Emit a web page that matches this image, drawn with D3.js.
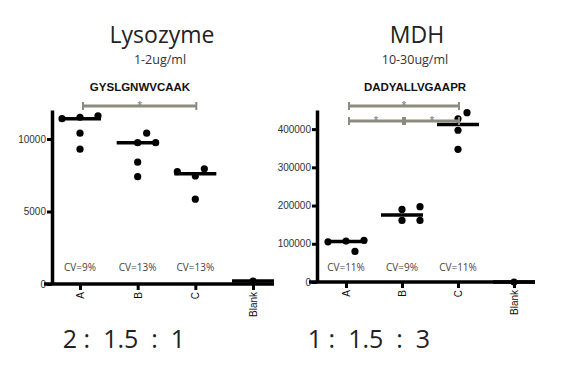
<!DOCTYPE html>
<html>
<head>
<meta charset="utf-8">
<script src="https://cdn.jsdelivr.net/npm/d3@7"></script>
<style>
  body { margin: 0; background: #fff; }
  text { font-family: "Open Sans", sans-serif; }
  .bold { font-family: "Liberation Sans", Arial, sans-serif; font-weight: bold; }
  .tick text { font-family: "Liberation Sans", Arial, sans-serif; }
</style>
</head>
<body>
<script>
// groups on the x axis
var categories = ['A', 'B', 'C', 'Blank']

// Lysozyme peptide GYSLGNWVCAAK, one list per group
var lysozymeValues = [
	[11500, 11600, 11400, 10400, 9300],
	[9750, 9750, 10400, 8400, 7400],
	[7450, 7950, 7750, 5850],
	[200]
]
var lysozymeTicks = [0, 5000, 10000]
var lysozymeCV = ['CV=9%', 'CV=13%', 'CV=13%']
var lysozymeSig = [['A', 'C', 0]]

// MDH peptide DADYALLVGAAPR
var mdhValues = [
	[107000, 109000, 105000, 80000],
	[190000, 161000, 161000, 197000],
	[427000, 397000, 443000, 347000],
	[0]
]
var mdhTicks = [0, 100000, 200000, 300000, 400000]
var mdhCV = ['CV=11%', 'CV=9%', 'CV=11%']
var mdhSig = [['A', 'C', 0], ['A', 'B', 1], ['B', 'C', 1]]

var width = 565, height = 376
var svg = d3.select('body').append('svg')
	.attr('width', width)
	.attr('height', height)

var panels = [
	{
		title: 'Lysozyme', conc: '1-2ug/ml', peptide: 'GYSLGNWVCAAK', ratio: '2 :  1.5  :  1',
		values: lysozymeValues, ticks: lysozymeTicks, cv: lysozymeCV, sig: lysozymeSig,
		yMax: 12000, axisX: 52, base: 284, top: 110, xRange: [80, 253], cx: 140, titleX: 162, ratioX: 124
	},
	{
		title: 'MDH', conc: '10-30ug/ml', peptide: 'DADYALLVGAAPR', ratio: '1 :  1.5  :  3',
		values: mdhValues, ticks: mdhTicks, cv: mdhCV, sig: mdhSig,
		yMax: 450000, axisX: 317, base: 282, top: 110, xRange: [346, 514], cx: 415, titleX: 417, ratioX: 369
	}
]

panels.forEach(drawPanel)

// spread points that overlap, like a column scatter
function spread(vals, y) {
	var placed = []
	var step = 9
	return vals.map(function(v) {
		var py = y(v)
		var slots = [0, step, -step, 2 * step, -2 * step]
		for (var i = 0; i < slots.length; i++) {
			var ok = placed.every(p => Math.hypot(p[0] - slots[i], p[1] - py) >= 10.5)
			if (ok) { placed.push([slots[i], py]); return [slots[i], py] }
		}
		placed.push([0, py])
		return [0, py]
	})
}

function drawPanel(p) {
	var x = d3.scalePoint().domain(categories).range(p.xRange)
	var y = d3.scaleLinear().domain([0, p.yMax]).range([p.base, p.top])
	var g = svg.append('g')

	g.append('text')
		.attr('x', p.titleX).attr('y', 43)
		.attr('text-anchor', 'middle')
		.style('font-size', '23px')
		.attr('fill', '#222')
		.text(p.title)

	g.append('text')
		.attr('x', p.titleX - 2).attr('y', 64)
		.attr('text-anchor', 'middle')
		.style('font-size', '12.5px')
		.attr('fill', '#333')
		.text(p.conc)

	g.append('text')
		.attr('class', 'bold')
		.attr('x', p.cx).attr('y', 91)
		.attr('text-anchor', 'middle')
		.style('font-size', '11.5px')
		.attr('fill', '#111')
		.text(p.peptide)

	// y axis
	var ya = g.append('g')
		.attr('transform', 'translate(' + p.axisX + ',0)')
		.call(d3.axisLeft(y).tickValues(p.ticks).tickSize(5).tickSizeOuter(0).tickFormat(d3.format('d')))
	ya.select('.domain').attr('stroke-width', 3.5)
	ya.selectAll('.tick line').attr('stroke-width', 3)
	ya.selectAll('.tick text').style('font-size', '10px').attr('fill', '#333').attr('x', -6)

	// x axis
	g.append('line')
		.attr('x1', p.axisX - 8).attr('x2', x('Blank') + 21)
		.attr('y1', p.base).attr('y2', p.base)
		.attr('stroke', '#000').attr('stroke-width', 3.5)

	var xa = g.append('g')
		.attr('transform', 'translate(0,' + p.base + ')')
		.call(d3.axisBottom(x).tickSize(6))
	xa.select('.domain').remove()
	xa.selectAll('.tick line').attr('stroke-width', 3)
	xa.selectAll('.tick text')
		.style('font-size', '10px')
		.attr('fill', '#111')
		.attr('transform', 'rotate(-90)')
		.attr('text-anchor', 'end')
		.attr('x', -8).attr('y', 0).attr('dy', '0.35em')

	// points and median lines
	p.values.forEach(function(vals, i) {
		var cat = categories[i]
		var pos = spread(vals, y)
		g.selectAll('.pt' + i)
			.data(pos)
			.enter()
			.append('circle')
				.attr('cx', d => x(cat) + d[0])
				.attr('cy', d => d[1])
				.attr('r', 3.6)
				.attr('fill', '#000')
		var med = d3.median(vals)
		g.append('line')
			.attr('x1', x(cat) - 21).attr('x2', x(cat) + 21)
			.attr('y1', y(med)).attr('y2', y(med))
			.attr('stroke', '#000').attr('stroke-width', 3.5)
	})

	// CV labels
	g.selectAll('.cv')
		.data(p.cv)
		.enter()
		.append('text')
			.attr('x', (d, i) => x(categories[i]))
			.attr('y', 271)
			.attr('text-anchor', 'middle')
			.style('font-size', '10px')
			.attr('fill', '#444')
			.text(d => d)

	// significance bars
	var sigColor = '#8d8a7f'
	p.sig.forEach(function(s) {
		var x1 = x(s[0]) + 3, x2 = x(s[1]) + 1
		var yy = 106 + s[2] * 15
		var sg = g.append('g')
		sg.append('line')
			.attr('x1', x1).attr('x2', x2).attr('y1', yy).attr('y2', yy)
			.attr('stroke', sigColor).attr('stroke-width', 3)
		;[x1, x2].forEach(function(cx) {
			sg.append('line')
				.attr('x1', cx).attr('x2', cx).attr('y1', yy - 4).attr('y2', yy + 4)
				.attr('stroke', sigColor).attr('stroke-width', 2)
		})
		sg.append('text')
			.attr('x', (x1 + x2) / 2).attr('y', yy + 2)
			.attr('text-anchor', 'middle')
			.style('font-size', '9px')
			.attr('fill', '#666')
			.text('*')
	})

	g.append('text')
		.attr('x', p.ratioX).attr('y', 348)
		.attr('text-anchor', 'middle')
		.style('font-size', '25px')
		.style('white-space', 'pre')
		.attr('fill', '#222')
		.text(p.ratio)
}
</script>
</body>
</html>
